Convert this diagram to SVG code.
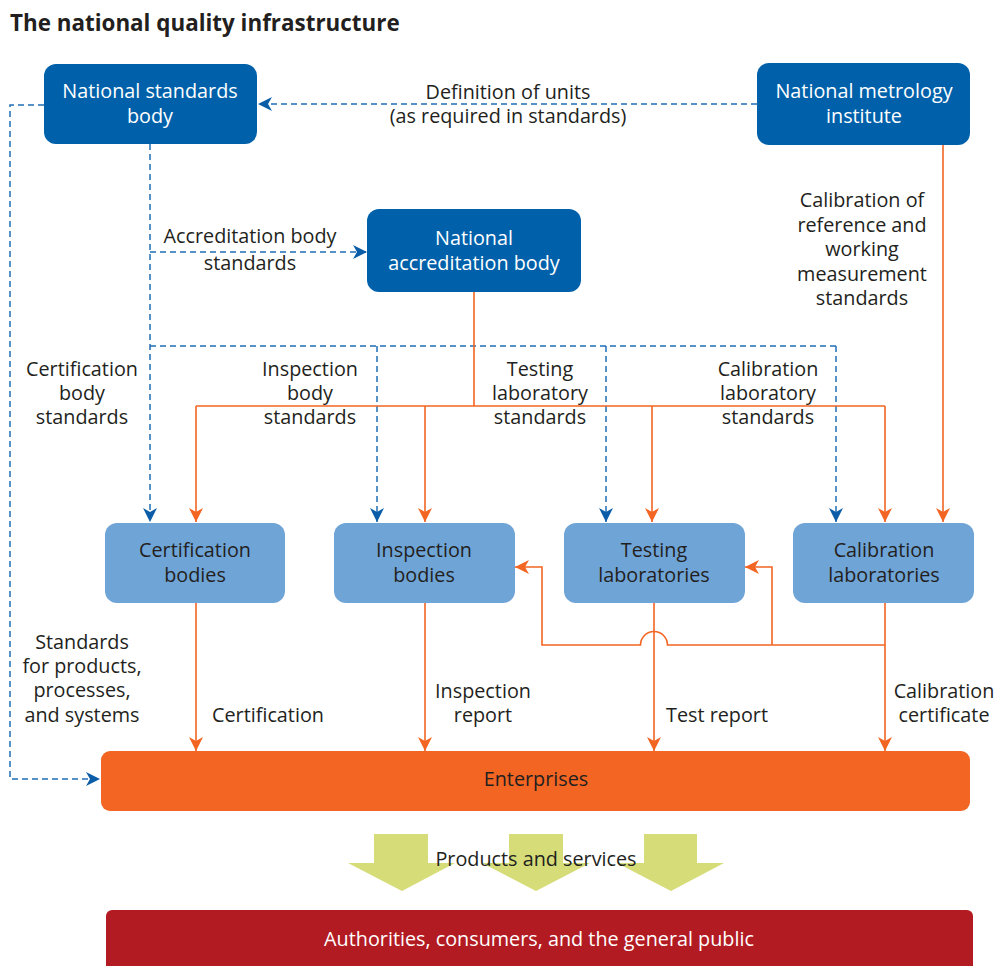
<svg xmlns="http://www.w3.org/2000/svg" width="996" height="966" viewBox="0 0 996 966">
  <defs>
    <style>
      text { font-family: "Open Sans", "Noto Sans", "DejaVu Sans", sans-serif; font-size: 19.8px; fill: #231F20; text-anchor: middle; }
      .title { font-size: 22.4px; font-weight: bold; text-anchor: start; }
      .white { fill: #FFFFFF; }
      .dark { fill: #0061AA; }
      .light { fill: #6FA4D7; }
      .blue-dash { fill: none; stroke: #1F6DB6; stroke-width: 1.5; stroke-dasharray: 6 4; }
      .orange { fill: none; stroke: #F26522; stroke-width: 1.6; }
      .pill { fill: #D5DC78; }
    </style>
    <marker id="ah-blue" viewBox="0 0 14 14" refX="14" refY="7" markerWidth="14" markerHeight="14" markerUnits="userSpaceOnUse" orient="auto">
      <path d="M0,0 L14,7 L0,14 L4,7 Z" fill="#0A5DA6" stroke="none"/>
    </marker>
    <marker id="ah-orange" viewBox="0 0 14 14" refX="14" refY="7" markerWidth="14" markerHeight="14" markerUnits="userSpaceOnUse" orient="auto">
      <path d="M0,0 L14,7 L0,14 L4,7 Z" fill="#F26522" stroke="none"/>
    </marker>
  </defs>

  <rect width="996" height="966" fill="#FFFFFF"/>

  <text class="title" x="10" y="31">The national quality infrastructure</text>

  <!-- connectors -->
  <g id="connectors">
    <!-- standards body outputs (dashed blue) -->
    <path class="blue-dash" d="M757,104 L258,104" marker-end="url(#ah-blue)"/>
    <path class="blue-dash" d="M44,105 L10,105 L10,779 L100,779" marker-end="url(#ah-blue)"/>
    <path class="blue-dash" d="M150,144 L150,522" marker-end="url(#ah-blue)"/>
    <path class="blue-dash" d="M150,252 L367,252" marker-end="url(#ah-blue)"/>
    <path class="blue-dash" d="M150,346 L836,346"/>
    <path class="blue-dash" d="M377,346 L377,522" marker-end="url(#ah-blue)"/>
    <path class="blue-dash" d="M606,346 L606,522" marker-end="url(#ah-blue)"/>
    <path class="blue-dash" d="M836,346 L836,522" marker-end="url(#ah-blue)"/>

    <!-- accreditation (orange) -->
    <path class="orange" d="M474,292 L474,406"/>
    <path class="orange" d="M196,406 L885,406"/>
    <path class="orange" d="M196,406 L196,522" marker-end="url(#ah-orange)"/>
    <path class="orange" d="M425,406 L425,522" marker-end="url(#ah-orange)"/>
    <path class="orange" d="M652,406 L652,522" marker-end="url(#ah-orange)"/>
    <path class="orange" d="M885,406 L885,522" marker-end="url(#ah-orange)"/>

    <!-- metrology calibration -->
    <path class="orange" d="M943,145 L943,522" marker-end="url(#ah-orange)"/>

    <!-- services to enterprises -->
    <path class="orange" d="M196,603 L196,751" marker-end="url(#ah-orange)"/>
    <path class="orange" d="M425,603 L425,751" marker-end="url(#ah-orange)"/>
    <path class="orange" d="M654,603 L654,751" marker-end="url(#ah-orange)"/>
    <path class="orange" d="M885,603 L885,751" marker-end="url(#ah-orange)"/>

    <!-- calibration feedback to labs and inspection -->
    <path class="orange" d="M885,645 L667.5,645 A13.5,13.5 0 0 0 640.5,645 L542,645 L542,567 L515,567" marker-end="url(#ah-orange)"/>
    <path class="orange" d="M772,645 L772,567 L745,567" marker-end="url(#ah-orange)"/>
  </g>

  <!-- connector labels -->
  <g id="labels">
    <text x="508" y="99">Definition of units</text>
    <text x="508" y="123">(as required in standards)</text>
    <text x="250" y="243">Accreditation body</text>
    <text x="250" y="270">standards</text>
    <text x="862" y="207">Calibration of</text>
    <text x="862" y="232">reference and</text>
    <text x="862" y="256">working</text>
    <text x="862" y="281">measurement</text>
    <text x="862" y="305">standards</text>
    <text x="82" y="376">Certification</text>
    <text x="82" y="400">body</text>
    <text x="82" y="424">standards</text>
    <text x="310" y="376">Inspection</text>
    <text x="310" y="400">body</text>
    <text x="310" y="424">standards</text>
    <text x="540" y="376">Testing</text>
    <text x="540" y="400">laboratory</text>
    <text x="540" y="424">standards</text>
    <text x="768" y="376">Calibration</text>
    <text x="768" y="400">laboratory</text>
    <text x="768" y="424">standards</text>
    <text x="82" y="649">Standards</text>
    <text x="82" y="673">for products,</text>
    <text x="82" y="697">processes,</text>
    <text x="82" y="722">and systems</text>
    <text x="268" y="722">Certification</text>
    <text x="483" y="698">Inspection</text>
    <text x="483" y="722">report</text>
    <text x="717" y="722">Test report</text>
    <text x="944" y="698">Calibration</text>
    <text x="944" y="722">certificate</text>
  </g>

  <g id="national-standards-body">
    <rect class="dark" x="44" y="64" width="213" height="80" rx="12"/>
    <text class="white" x="150" y="98">National standards</text>
    <text class="white" x="150" y="123">body</text>
  </g>

  <g id="national-metrology-institute">
    <rect class="dark" x="757" y="63" width="213" height="82" rx="12"/>
    <text class="white" x="864" y="98">National metrology</text>
    <text class="white" x="864" y="123">institute</text>
  </g>

  <g id="national-accreditation-body">
    <rect class="dark" x="367" y="209" width="214" height="83" rx="12"/>
    <text class="white" x="474" y="245">National</text>
    <text class="white" x="474" y="270">accreditation body</text>
  </g>

  <g id="certification-bodies">
    <rect class="light" x="105" y="523" width="180" height="80" rx="12"/>
    <text x="195" y="557">Certification</text>
    <text x="195" y="582">bodies</text>
  </g>

  <g id="inspection-bodies">
    <rect class="light" x="334" y="523" width="181" height="80" rx="12"/>
    <text x="424" y="557">Inspection</text>
    <text x="424" y="582">bodies</text>
  </g>

  <g id="testing-laboratories">
    <rect class="light" x="564" y="523" width="181" height="80" rx="12"/>
    <text x="654" y="557">Testing</text>
    <text x="654" y="582">laboratories</text>
  </g>

  <g id="calibration-laboratories">
    <rect class="light" x="793" y="523" width="181" height="80" rx="12"/>
    <text x="884" y="557">Calibration</text>
    <text x="884" y="582">laboratories</text>
  </g>

  <g id="enterprises">
    <rect x="101" y="751" width="869" height="60" rx="9" fill="#F26522"/>
    <text x="536" y="786">Enterprises</text>
  </g>

  <g id="products-and-services">
    <polygon class="pill" points="374,834 428,834 428,863 455,863 402,891 348,863 374,863"/>
    <polygon class="pill" points="509,834 563,834 563,863 590,863 536,891 482,863 509,863"/>
    <polygon class="pill" points="644,834 697,834 697,863 724,863 671,891 617,863 644,863"/>
    <text x="536" y="866">Products and services</text>
  </g>

  <g id="public">
    <rect x="106" y="910" width="867" height="66" rx="6" fill="#B31B23"/>
    <text class="white" x="539" y="946">Authorities, consumers, and the general public</text>
  </g>
</svg>
